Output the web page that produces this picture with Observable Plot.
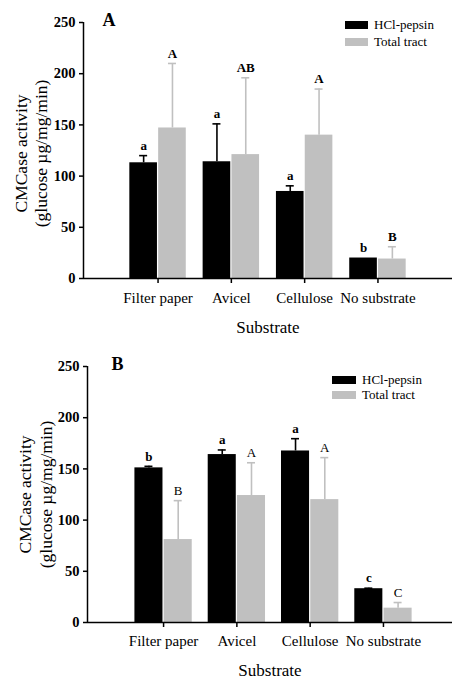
<!DOCTYPE html>
<html>
<head>
<meta charset="utf-8">
<script src="https://cdn.jsdelivr.net/npm/d3@7"></script>
<script src="https://cdn.jsdelivr.net/npm/@observablehq/plot@0.6"></script>
<style>
  html, body { margin: 0; padding: 0; background: #fff; }
  body { width: 452px; height: 682px; overflow: hidden; position: relative;
         font-family: "Liberation Serif", "Times New Roman", serif; }
  .panel { position: absolute; left: 0; }
  .legend-swatch { position: absolute; }
  .legend-text { position: absolute; font-size: 13px; line-height: 13px; white-space: nowrap; color: #000; }
</style>
</head>
<body>
<script>
// Substrates and incubation methods
const categories = ["Filter paper", "Avicel", "Cellulose", "No substrate"];
const seriesNames = ["HCl-pepsin", "Total tract"];
const seriesColors = ["#000000", "#c0c0c0"];
const yTicks = [0, 50, 100, 150, 200, 250];

// Panel A: CMCase activity (glucose µg/mg/min), mean and SE
const aHcl = [113, 114, 85, 20];
const aHclSE = [7, 37, 5.5, 0];
const aTotal = [147, 121, 140, 19];
const aTotalSE = [63, 75, 45, 12];
const aHclLetters = ["a", "a", "a", "b"];
const aTotalLetters = ["A", "AB", "A", "B"];

// Panel B: CMCase activity (glucose µg/mg/min), mean and SE
const bHcl = [151, 164, 167.5, 33];
const bHclSE = [1.5, 4.5, 12, 0.5];
const bTotal = [81, 124, 120, 14];
const bTotalSE = [38, 32, 41, 5.5];
const bHclLetters = ["b", "a", "a", "c"];
const bTotalLetters = ["B", "A", "A", "C"];

const W = 452;
const FONT = '"Liberation Serif", "Times New Roman", serif';

function drawPanel(cfg) {
  const n = categories.length;
  const step = (W - cfg.ml) / (n - cfg.pi + 2 * cfg.po);
  const bw = step * (1 - cfg.pi);
  const gap = 1.2;
  const half = bw / 2;
  const capHalf = 4;
  // geometry of the two bars inside each category band
  const geo = [
    {insetLeft: 0, insetRight: half + gap / 2, center: (half - gap / 2) / 2},
    {insetLeft: half + gap / 2, insetRight: 0, center: (half + gap / 2 + bw) / 2}
  ];
  const values = [cfg.hcl, cfg.total];
  const errors = [cfg.hclSE, cfg.totalSE];
  const letters = [cfg.hclL, cfg.totalL];

  const marks = [];
  seriesNames.forEach((name, s) => {
    const rows = categories.map((c, i) => ({cat: c, value: values[s][i], se: errors[s][i], letter: letters[s][i]}));
    const withErr = rows.filter(d => d.se > 0);
    const g = geo[s];
    const color = seriesColors[s];
    marks.push(Plot.barY(rows, {x: "cat", y: "value", fill: color, insetLeft: g.insetLeft, insetRight: g.insetRight}));
    marks.push(Plot.ruleX(withErr, {x: "cat", y1: "value", y2: d => d.value + d.se, dx: g.center - half, stroke: color, strokeWidth: 1.6}));
    marks.push(Plot.tickY(withErr, {x: "cat", y: d => d.value + d.se, stroke: color, strokeWidth: 1.6,
      insetLeft: g.center - capHalf, insetRight: bw - g.center - capHalf}));
    marks.push(Plot.text(rows, {x: "cat", y: d => d.value + d.se, text: "letter", dx: g.center - half, dy: -10,
      fontSize: 13, fontWeight: cfg.letterWeights[s], fill: "#000"}));
  });

  const svg = Plot.plot({
    width: W,
    height: cfg.height,
    marginLeft: cfg.ml,
    marginRight: 0,
    marginTop: cfg.mt,
    marginBottom: cfg.mb,
    style: {fontFamily: FONT, fontSize: "15px", color: "#000", background: "transparent", overflow: "visible"},
    x: {type: "band", domain: categories, paddingInner: cfg.pi, paddingOuter: cfg.po, align: cfg.align, round: false, axis: null},
    y: {domain: [0, 250], axis: null},
    marks: [
      ...marks,
      // axis lines: baseline across the frame, vertical line along the left edge
      Plot.ruleY([0], {stroke: "#000", strokeWidth: 1.5}),
      Plot.ruleX([0], {x: null, y1: 0, y2: 250, dx: -(W - cfg.ml) / 2, stroke: "#000", strokeWidth: 1.5}),
      Plot.axisX({tickSize: 5, tickPadding: cfg.tickPad, fontSize: 15, strokeWidth: 1.5, label: null}),
      Plot.axisY({ticks: yTicks, tickSize: 4, tickPadding: 4, fontSize: 14.5, fontWeight: "bold", strokeWidth: 1.5, label: null}),
      Plot.text(["CMCase activity\n(glucose µg/mg/min)"], {text: d => d, frameAnchor: "left", rotate: -90,
        dx: cfg.titleDx, dy: cfg.titleDy, fontSize: 17.5, lineHeight: cfg.titleLH, textAnchor: "middle", lineAnchor: "middle"}),
      Plot.text(["Substrate"], {text: d => d, frameAnchor: "bottom", dy: cfg.xTitleDy, fontSize: 17,
        textAnchor: "middle", lineAnchor: "middle"}),
      Plot.text([cfg.label], {text: d => d, frameAnchor: "top-left", dx: cfg.labelDx, dy: cfg.labelDy,
        fontSize: 18, fontWeight: "bold", textAnchor: "start", lineAnchor: "middle"})
    ]
  });
  svg.classList.add("panel");
  svg.style.top = cfg.top + "px";
  document.body.appendChild(svg);

  // legend
  seriesNames.forEach((name, s) => {
    const sw = document.createElement("div");
    sw.className = "legend-swatch";
    sw.style.left = cfg.legX + "px";
    sw.style.top = (cfg.top + cfg.legY + s * cfg.legStep - 4) + "px";
    sw.style.width = cfg.legW + "px";
    sw.style.height = "8px";
    sw.style.background = seriesColors[s];
    document.body.appendChild(sw);
    const tx = document.createElement("div");
    tx.className = "legend-text";
    tx.textContent = name;
    tx.style.left = (cfg.legX + cfg.legW + 6) + "px";
    tx.style.top = (cfg.top + cfg.legY + s * cfg.legStep - 7) + "px";
    document.body.appendChild(tx);
  });
}

drawPanel({
  label: "A", top: 0, height: 340, ml: 83, mt: 22, mb: 62,
  pi: 0.23, po: 0.632, align: 0.5,
  hcl: aHcl, hclSE: aHclSE, total: aTotal, totalSE: aTotalSE, hclL: aHclLetters, totalL: aTotalLetters,
  letterWeights: ["bold", "bold"],
  tickPad: 9, titleDx: -53, titleDy: 3, titleLH: 1.15, xTitleDy: 49, labelDx: 19, labelDy: -2,
  legX: 345, legY: 24.5, legStep: 17.5, legW: 23
});

drawPanel({
  label: "B", top: 340, height: 342, ml: 87, mt: 26, mb: 60,
  pi: 0.218, po: 0.599, align: 0.54,
  hcl: bHcl, hclSE: bHclSE, total: bTotal, totalSE: bTotalSE, hclL: bHclLetters, totalL: bTotalLetters,
  letterWeights: ["bold", "normal"],
  tickPad: 8, titleDx: -53, titleDy: 0, titleLH: 1.22, xTitleDy: 48, labelDx: 24, labelDy: -2,
  legX: 332, legY: 39.5, legStep: 15, legW: 24
});
</script>
</body>
</html>
